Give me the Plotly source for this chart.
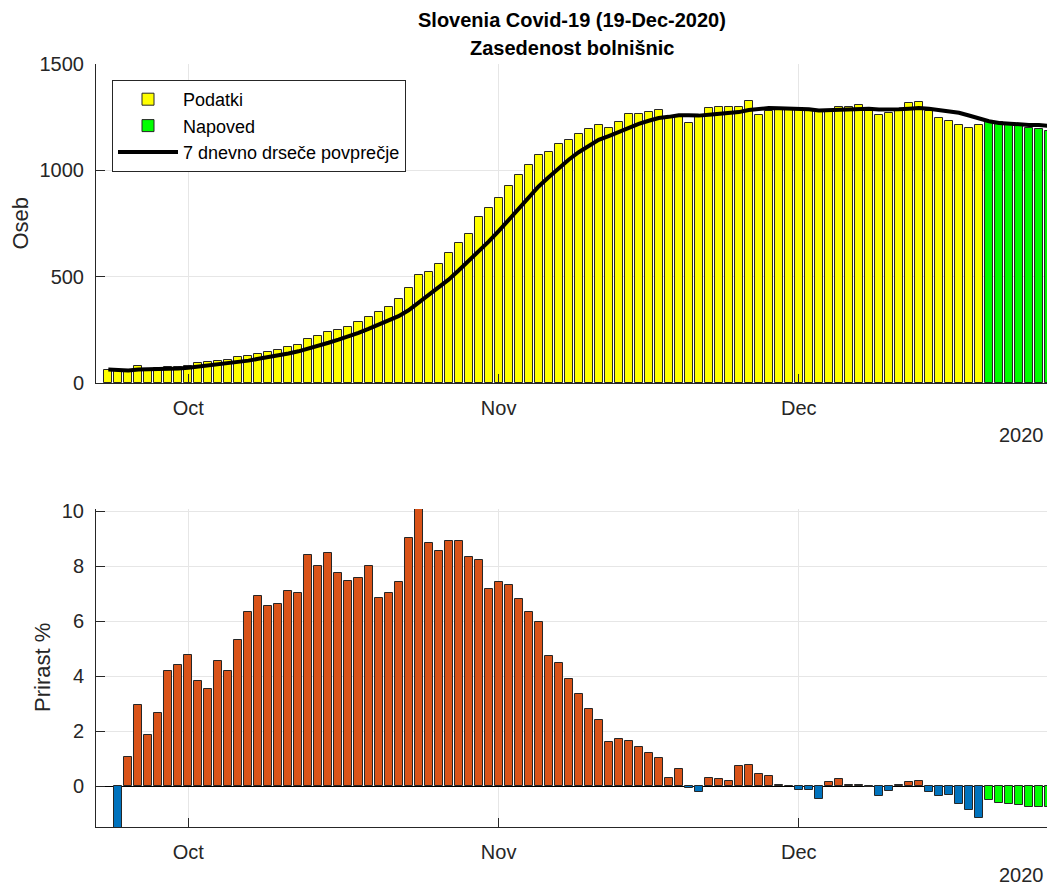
import pandas as pd
import plotly.graph_objects as go

# ---------------- data ----------------
data_start = "2020-09-23"
hosp_data = [63, 56, 56, 78, 66, 72, 75, 75,
             78, 94, 97, 105, 110, 124, 128, 138, 147, 157, 169, 180, 208, 222, 241, 251,
             263, 288, 310, 335, 357, 395, 447, 509, 523, 559, 611, 658, 700, 780, 822,
             869, 926, 977, 1024, 1071, 1086, 1123, 1142, 1172, 1194, 1213, 1197, 1227,
             1263, 1263, 1274, 1283, 1253, 1253, 1222, 1253, 1292, 1300, 1297, 1300, 1324,
             1260, 1277, 1288, 1288,
             1288, 1285, 1280, 1274, 1297, 1297, 1305, 1292, 1260, 1269, 1288, 1316, 1319,
             1280, 1248, 1231, 1213, 1198, 1213]
fc_start = "2020-12-20"
hosp_fc = [1233, 1225, 1217, 1208, 1201, 1195, 1187]

growth_start = "2020-09-24"
growth_data = [-1.5, 1.05, 2.97, 1.85, 2.65, 4.18, 4.40,
               4.76, 3.82, 3.53, 4.55, 4.18, 5.33, 6.35, 6.90, 6.57, 6.64, 7.09, 7.04,
               8.39, 7.99, 8.47, 7.75, 7.45, 7.59, 8.02, 6.86, 7.04, 7.42, 9.04, 10.08,
               8.84, 8.57, 8.93, 8.90, 8.32, 8.21, 7.19,
               7.41, 7.30, 6.82, 6.32, 5.99, 4.73, 4.47, 3.89, 3.35, 2.80, 2.40, 1.60,
               1.71, 1.65, 1.42, 1.20, 1.02, 0.29, 0.63, -0.07, -0.22, 0.29, 0.25, 0.18,
               0.73, 0.78, 0.44, 0.36, 0.04, 0.0,
               -0.15, -0.15, -0.48, 0.15, 0.25, 0.04, 0.04, -0.04, -0.36, -0.18, 0.04,
               0.15, 0.18, -0.22, -0.36, -0.33, -0.65, -0.87, -1.16]
growth_fc = [-0.51, -0.61, -0.63, -0.69, -0.76, -0.76, -0.76]

month_ticks = ["2020-10-01", "2020-11-01", "2020-12-01"]
month_labels = ["Oct", "Nov", "Dec"]

# ---------------- derived ----------------
d_data = pd.date_range(data_start, periods=len(hosp_data), freq="D")
d_fc = pd.date_range(fc_start, periods=len(hosp_fc), freq="D")
g_data = pd.date_range(growth_start, periods=len(growth_data), freq="D")
all_dates = d_data.append(d_fc)
ma7 = pd.Series(hosp_data + hosp_fc, index=all_dates).rolling(7, min_periods=1).mean()

YELLOW = "#FFFF00"
GREEN = "#00FF00"
ORANGE = "#D95319"
BLUE = "#0072BD"
EDGE = "#262626"
TXT = "#262626"
GRID = "#E6E6E6"
FONT = "Liberation Sans, Arial, sans-serif"
BW = 0.8 * 86400000

fig = go.Figure()
fig.add_trace(go.Bar(x=d_data, y=hosp_data, width=BW, name="Podatki",
                     marker=dict(color=YELLOW, line=dict(color=EDGE, width=1)),
                     xaxis="x", yaxis="y"))
fig.add_trace(go.Bar(x=d_fc, y=hosp_fc, width=BW, name="Napoved",
                     marker=dict(color=GREEN, line=dict(color=EDGE, width=1)),
                     xaxis="x", yaxis="y"))
fig.add_trace(go.Scatter(x=ma7.index, y=ma7.values, mode="lines",
                         name="7 dnevno drseče povprečje",
                         line=dict(color="black", width=4), xaxis="x", yaxis="y"))

gcolors = [ORANGE if v >= 0 else BLUE for v in growth_data]
fig.add_trace(go.Bar(x=g_data, y=growth_data, width=BW, showlegend=False,
                     marker=dict(color=gcolors, line=dict(color=EDGE, width=1)),
                     xaxis="x2", yaxis="y2"))
fig.add_trace(go.Bar(x=d_fc, y=growth_fc, width=BW, showlegend=False,
                     marker=dict(color=GREEN, line=dict(color=EDGE, width=1)),
                     xaxis="x2", yaxis="y2"))

W, H = 1050, 886
xdom = [96 / W, 1047 / W]
xrange = ["2020-09-21 18:28", "2020-12-25 19:12"]

common_x = dict(type="date", range=xrange, tickvals=month_ticks, ticktext=month_labels,
                ticks="inside", ticklen=9, tickcolor=TXT, showgrid=True, gridcolor=GRID,
                showline=True, linecolor=TXT, linewidth=1, zeroline=False,
                tickfont=dict(size=20, color=TXT, family=FONT), ticklabelstandoff=7,
                domain=xdom, automargin=False)
common_y = dict(ticks="inside", ticklen=9, tickcolor=TXT, showgrid=True, gridcolor=GRID,
                showline=True, linecolor=TXT, linewidth=1, automargin=False,
                tickfont=dict(size=20, color=TXT, family=FONT), ticklabelstandoff=7)

fig.update_layout(
    width=W, height=H,
    margin=dict(l=0, r=0, t=0, b=0, pad=0, autoexpand=False),
    paper_bgcolor="white", plot_bgcolor="white",
    font=dict(family=FONT, color=TXT),
    barmode="overlay", bargap=0,
    xaxis=dict(common_x, anchor="y"),
    yaxis=dict(common_y, domain=[(H - 383) / H, (H - 64) / H], range=[0, 1500],
               tickvals=[0, 500, 1000, 1500], zeroline=False, anchor="x"),
    xaxis2=dict(common_x, anchor="y2"),
    yaxis2=dict(common_y, domain=[(H - 827) / H, (H - 509) / H], range=[-1.48, 10.08],
                tickvals=[0, 2, 4, 6, 8, 10], zeroline=True, zerolinecolor="#000000",
                zerolinewidth=1, anchor="x2"),
    legend=dict(x=112 / W, y=1 - 80 / H, xanchor="left", yanchor="top",
                bgcolor="white", bordercolor="#262626", borderwidth=1,
                font=dict(size=18, color="black", family=FONT),
                itemwidth=60, tracegroupgap=0),
    showlegend=True,
)

ann = []
ann.append(dict(text="<b>Slovenia Covid-19 (19-Dec-2020)</b>", x=571.5 / W, y=1 - 20 / H,
                xref="paper", yref="paper", xanchor="center", yanchor="middle",
                showarrow=False, font=dict(size=20, color="black", family=FONT)))
ann.append(dict(text="<b>Zasedenost bolnišnic</b>", x=571.5 / W, y=1 - 48 / H,
                xref="paper", yref="paper", xanchor="center", yanchor="middle",
                showarrow=False, font=dict(size=20, color="black", family=FONT)))
ann.append(dict(text="Oseb", x=20 / W, y=1 - 223.5 / H, xref="paper", yref="paper",
                textangle=-90, xanchor="center", yanchor="middle", showarrow=False,
                font=dict(size=22, color=TXT, family=FONT)))
ann.append(dict(text="Prirast %", x=42 / W, y=1 - 668 / H, xref="paper", yref="paper",
                textangle=-90, xanchor="center", yanchor="middle", showarrow=False,
                font=dict(size=22, color=TXT, family=FONT)))
for yy in (435, 875):
    ann.append(dict(text="2020", x=1046 / W, y=1 - yy / H, xref="paper", yref="paper",
                    xanchor="right", yanchor="middle", showarrow=False,
                    font=dict(size=20, color=TXT, family=FONT)))
fig.update_layout(annotations=ann)

fig.write_html("out.html", config={"displayModeBar": False},
               post_script="document.body.style.margin='0px';document.body.style.overflow='hidden';")
